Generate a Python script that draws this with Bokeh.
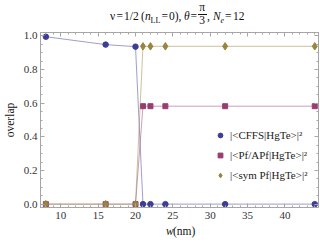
from bokeh.plotting import figure
from bokeh.layouts import column
from bokeh.models import (Range1d, LinearAxis, SingleIntervalTicker, Legend, LegendItem,
                          CustomJSTickFormatter, PrintfTickFormatter, Div)
from bokeh.embed import file_html
from bokeh.resources import INLINE

# ---- data ----
w_nm = [8, 16, 20, 21, 22, 24, 32, 44]
cffs = [0.995, 0.948, 0.936, 0.0, 0.0, 0.0, 0.0, 0.0]
pf_apf = [0.0, 0.0, 0.0, 0.582, 0.582, 0.582, 0.582, 0.582]
sym_pf = [0.0, 0.0, 0.0, 0.938, 0.938, 0.938, 0.938, 0.938]
series_labels = ["|<CFFS|HgTe>|²", "|<Pf/APf|HgTe>|²", "|<sym Pf|HgTe>|²"]

BLUE = "#3D3D99"
MAG = "#993D71"
GOLD = "#99853D"
FRAME = "#a6a6a6"
SERIF = "Liberation Serif"

p = figure(width=320, height=198, title=None,
           x_range=Range1d(7.28, 44.5), y_range=Range1d(-0.02, 1.02),
           output_backend="svg", toolbar_location=None, margin=0,
           min_border_left=37, min_border_right=2, min_border_top=6, min_border_bottom=17)
p.grid.visible = False
p.outline_line_color = FRAME
p.background_fill_color = "white"
p.border_fill_color = None


def style(ax, labels=True):
    ax.axis_line_color = FRAME
    ax.major_tick_line_color = FRAME
    ax.minor_tick_line_color = FRAME
    ax.major_tick_in = 4
    ax.major_tick_out = 0
    ax.minor_tick_in = 2
    ax.minor_tick_out = 0
    if labels:
        ax.major_label_text_font = SERIF
        ax.major_label_text_font_size = "11px"
        ax.major_label_text_color = "#333333"
    else:
        ax.formatter = CustomJSTickFormatter(code="return ''")
        ax.major_label_standoff = 0


p.xaxis.ticker = SingleIntervalTicker(interval=5, num_minor_ticks=5)
p.yaxis.ticker = SingleIntervalTicker(interval=0.2, num_minor_ticks=4)
p.yaxis.formatter = PrintfTickFormatter(format="%.1f")
style(p.xaxis[0])
style(p.yaxis[0])
p.xaxis[0].major_label_standoff = 4
p.yaxis[0].major_label_standoff = 3
p.yaxis.axis_label = "overlap"
p.yaxis.axis_label_text_font = SERIF
p.yaxis.axis_label_text_font_size = "11.5px"
p.yaxis.axis_label_text_font_style = "normal"
p.yaxis.axis_label_text_color = "#111111"
p.yaxis.axis_label_standoff = 5

top = LinearAxis(ticker=SingleIntervalTicker(interval=5, num_minor_ticks=5))
right = LinearAxis(ticker=SingleIntervalTicker(interval=0.2, num_minor_ticks=4))
style(top, labels=False)
style(right, labels=False)
p.add_layout(top, "above")
p.add_layout(right, "right")

# ---- series ----
p.line(w_nm, cffs, line_color=BLUE, line_alpha=0.5, line_width=1)
r1 = p.scatter(w_nm, cffs, marker="circle", size=5.5, fill_color=BLUE, line_color=BLUE)
p.line(w_nm, pf_apf, line_color=MAG, line_alpha=0.5, line_width=1)
r2 = p.scatter(w_nm, pf_apf, marker="square", size=5, fill_color=MAG, line_color=MAG)
p.line(w_nm, sym_pf, line_color=GOLD, line_alpha=0.5, line_width=1)
r3 = p.scatter(w_nm, sym_pf, marker="diamond", size=7.5, fill_color=GOLD, line_color=GOLD)

legend = Legend(items=[LegendItem(label=series_labels[0], renderers=[r1]),
                       LegendItem(label=series_labels[1], renderers=[r2]),
                       LegendItem(label=series_labels[2], renderers=[r3])],
                location=(174, 22), padding=0, margin=0, spacing=0,
                glyph_width=12, glyph_height=20, label_height=20, label_standoff=4,
                background_fill_alpha=0, border_line_color=None,
                label_text_font=SERIF, label_text_font_size="11px",
                label_text_color="#222222")
p.add_layout(legend, "center")


# ---- title (HTML text, absolutely placed pieces) ----
def span(text, left, top, size=11.5, italic=False, extra=""):
    st = "font-style:italic;" if italic else ""
    return (f'<span style="position:absolute;left:{left}px;top:{top}px;'
            f'font-size:{size}px;line-height:1;white-space:pre;{st}{extra}">{text}</span>')


T = 11.0     # top of main-line spans
TS = 16.5    # top of subscript spans
pieces = [
    span("ν", 110, T), span("=", 116.5, T), span("1/2", 124, T), span("(", 141, T),
    span("n", 145, T, italic=True), span("LL", 150.5, TS, size=8),
    span("=", 161.5, T), span("0)", 169, T), span(",", 178.6, T),
    span("θ", 184, T, italic=True), span("=", 190.5, T),
    span("π", 199.3, 2.3),
    '<span style="position:absolute;left:198px;top:13.6px;width:8.5px;height:0.9px;background:#111"></span>',
    span("3", 199.3, 14.6),
    span(",", 207, T), span("N", 213, T, italic=True), span("e", 220.5, TS, size=8, italic=True),
    span("=", 225, T), span("12", 233, T),
]
title_html = ('<div style="position:relative;width:320px;height:26px;'
              f"font-family:'{SERIF}';color:#111;\">" + "".join(pieces) + "</div>")
title_div = Div(text=title_html, width=320, height=26, margin=0)

xlab_html = ('<div style="position:relative;width:320px;height:18px;'
             f"font-family:'{SERIF}';color:#111;\">"
             + span("w", 166, 1.8, italic=True) + span("(nm)", 173, 1.8) + "</div>")
xlab_div = Div(text=xlab_html, width=320, height=18, margin=0)

layout = column(title_div, p, xlab_div, margin=0, spacing=0)

open("out.html", "w").write(file_html(layout, INLINE))
